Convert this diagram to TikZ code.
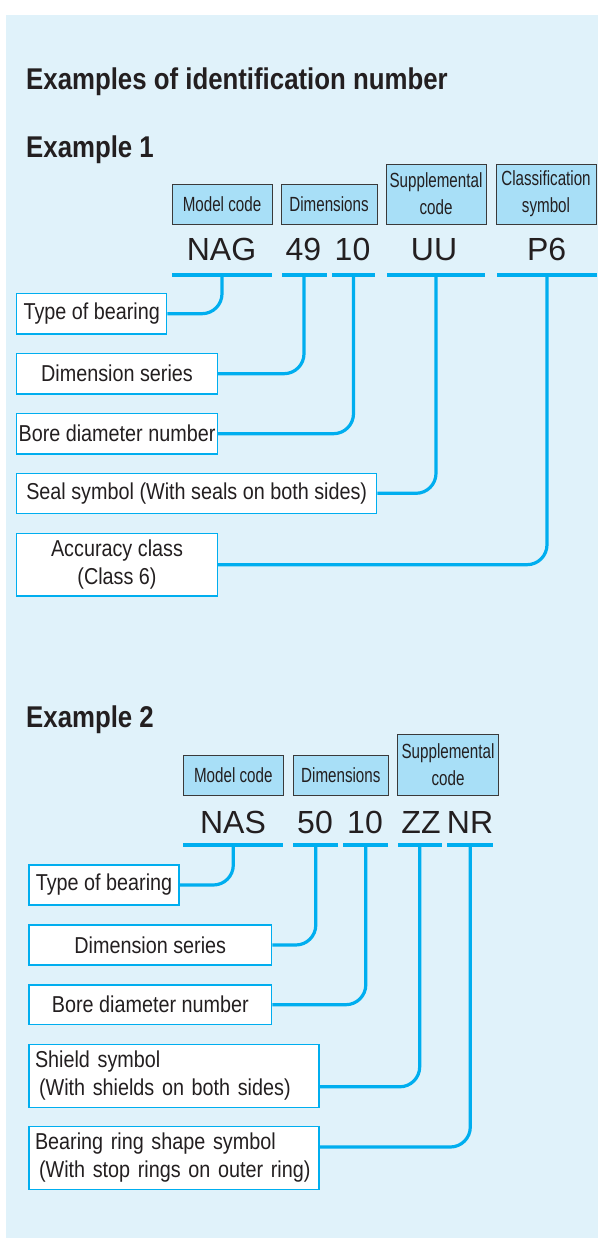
\documentclass[tikz,border=0pt]{standalone}
\usepackage{fontspec}
\setmainfont{Liberation Sans}
\newfontfamily\lblfont{Liberation Sans}[FakeStretch=0.86]
\newfontfamily\hdrfont{Liberation Sans}[FakeStretch=0.74]
\newfontfamily\ttlfont{Liberation Sans}[FakeStretch=0.86]
\newfontfamily\codefont{Liberation Sans}
\definecolor{bgc}{HTML}{E0F2FA}
\definecolor{hdrfill}{HTML}{A8DFF7}
\definecolor{hdrline}{HTML}{3A3A3A}
\definecolor{cyanc}{HTML}{00AEEF}
\definecolor{txt}{HTML}{231F20}
\tikzset{
  hdr/.style={draw=hdrline, fill=hdrfill, line width=0.9pt, inner sep=0pt,
    font={\hdrfont\fontsize{20.5}{27}\selectfont}, text=txt, align=center},
  lbl/.style={draw=cyanc, fill=white, line width=1.4pt, inner sep=0pt,
    font={\lblfont\fontsize{23}{28}\selectfont}, text=txt, align=center},
  lbll/.style={lbl, align=left, inner xsep=6pt, text width=278pt},
  codetxt/.style={font={\codefont\fontsize{32}{36}\selectfont}, text=txt, anchor=base, inner sep=0pt},
  uline/.style={fill=cyanc, inner sep=0pt, minimum height=3.4pt},
  conn/.style={draw=cyanc, line width=3.2pt, rounded corners=20pt},
  ttl/.style={font={\ttlfont\bfseries\fontsize{30}{34}\selectfont}, text=txt, anchor=base west, inner sep=0pt}
}
\begin{document}
\begin{tikzpicture}[x=1pt,y=-1pt]
\useasboundingbox (0,0) rectangle (598,1246);
\fill[bgc] (6,15) rectangle (598,1238);

% titles
\node[ttl] (title) at (26,90) {Examples of identification number};
\node[ttl] (ex1) at (26,158) {Example 1};
\node[ttl] (ex2) at (26,727) {Example 2};

% ---------- Example 1 ----------
\node[hdr, minimum width=100pt, minimum height=40pt] (m1) at (222,204) {Model code};
\node[hdr, minimum width=96pt, minimum height=40pt] (d1) at (329,204) {Dimensions};
\node[hdr, minimum width=100pt, minimum height=60pt] (s1) at (436,194) {Supplemental\\code};
\node[hdr, minimum width=100pt, minimum height=60pt] (c1) at (546,194) {Classification\\symbol};

\node[codetxt] (nag) at (221.5,261) {NAG};
\node[codetxt] (c49) at (303.5,261) {49};
\node[codetxt] (c10) at (352.5,261) {10};
\node[codetxt] (cuu) at (434,261) {UU};
\node[codetxt] (cp6) at (546.7,261) {P6};

\node[uline, minimum width=100pt] (u1) at (222,275) {};
\node[uline, minimum width=45pt] (u2) at (304,275) {};
\node[uline, minimum width=43pt] (u3) at (353.5,275) {};
\node[uline, minimum width=98pt] (u4) at (436,275) {};
\node[uline, minimum width=100pt] (u5) at (547,275) {};

\node[lbl, minimum width=150pt, minimum height=40.7pt] (t1) at (91.7,313.7) {Type of bearing};
\node[lbl, minimum width=200.6pt, minimum height=40.7pt] (ds1) at (117,373.7) {Dimension series};
\node[lbl, minimum width=200.6pt, minimum height=40.7pt] (bd1) at (117,433.7) {Bore diameter number};
\node[lbl, minimum width=360pt, minimum height=40pt] (se1) at (196.7,493.3) {Seal symbol (With seals on both sides)};
\node[lbl, minimum width=200.6pt, minimum height=62.7pt] (ac1) at (117,564.7) {Accuracy class\\(Class 6)};

\draw[conn] (u1.center) |- (t1.east);
\draw[conn] (u2.center) |- (ds1.east);
\draw[conn] (u3.center) |- (bd1.east);
\draw[conn] (u4.center) |- (se1.east);
\draw[conn] (u5.center) |- (ac1.east);

% ---------- Example 2 ----------
\node[hdr, minimum width=100pt, minimum height=40pt] (m2) at (233.3,775) {Model code};
\node[hdr, minimum width=95pt, minimum height=40pt] (d2) at (340.8,775) {Dimensions};
\node[hdr, minimum width=100.6pt, minimum height=60.7pt] (s2) at (448,764.7) {Supplemental\\code};

\node[codetxt] (nas) at (233,833.3) {NAS};
\node[codetxt] (c50) at (315,833.3) {50};
\node[codetxt] (c10b) at (365,833.3) {10};
\node[codetxt] (czz) at (421,833.3) {ZZ};
\node[codetxt] (cnr) at (470,833.3) {NR};

\node[uline, minimum width=100pt] (u6) at (233.3,845) {};
\node[uline, minimum width=45pt] (u7) at (315.8,845) {};
\node[uline, minimum width=45pt] (u8) at (365.8,845) {};
\node[uline, minimum width=44pt] (u9) at (419.7,845) {};
\node[uline, minimum width=46pt] (u10) at (470.3,845) {};

\node[lbl, minimum width=150pt, minimum height=40pt] (t2) at (104,885) {Type of bearing};
\node[lbl, minimum width=242.7pt, minimum height=40pt] (ds2) at (150.3,945) {Dimension series};
\node[lbl, minimum width=242.7pt, minimum height=39.3pt] (bd2) at (150.3,1004.7) {Bore diameter number};
\node[lbll, minimum height=63pt] (sh2) at (174,1075.8) {Shield symbol\\\hspace*{4pt}(With shields on both sides)};
\node[lbll, minimum height=62.6pt] (br2) at (174,1158) {Bearing ring shape symbol\\\hspace*{4pt}(With stop rings on outer ring)};

\draw[conn] (u6.center) |- (t2.east);
\draw[conn] (u7.center) |- (ds2.east);
\draw[conn] (u8.center) |- (bd2.east);
\draw[conn] (u9.center) |- ([yshift=-11pt]sh2.east);
\draw[conn] (u10.center) |- ([yshift=11pt]br2.east);
\end{tikzpicture}
\end{document}
